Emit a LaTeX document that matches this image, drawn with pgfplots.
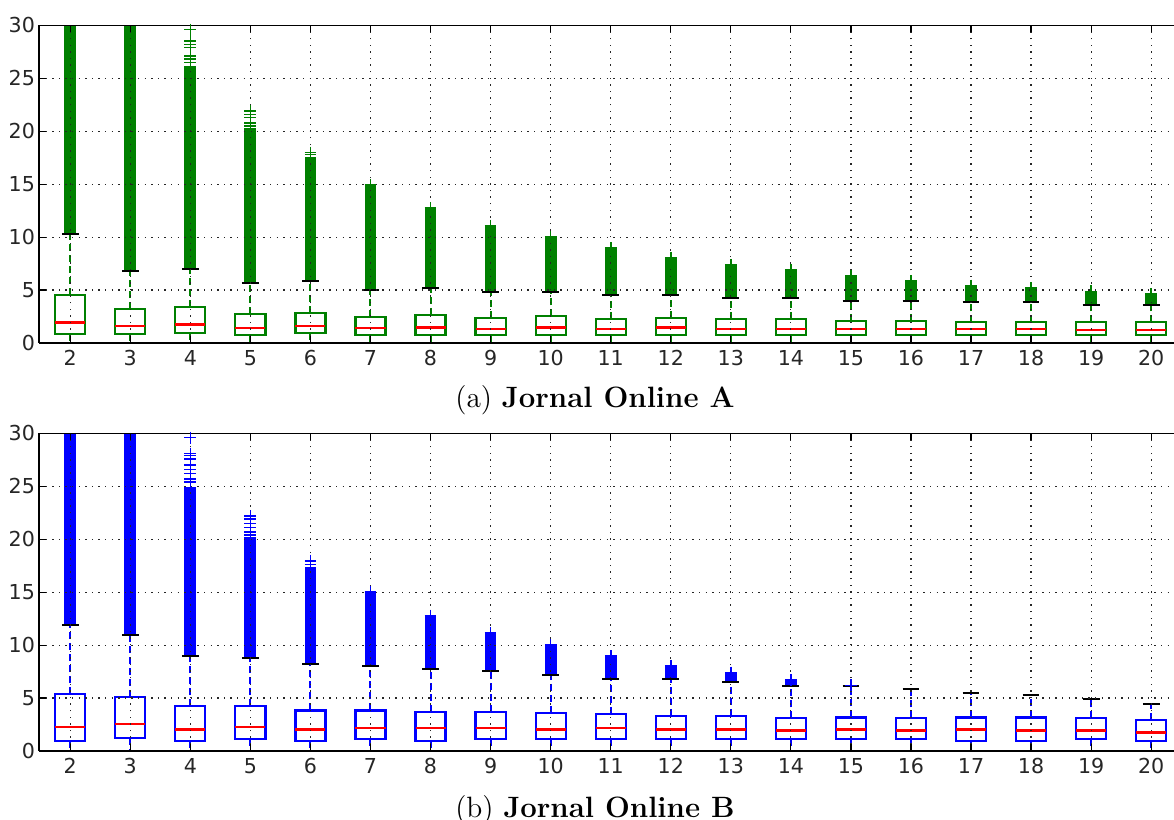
\documentclass[border=0pt]{standalone}
\usepackage{pgfplots}
\usepackage{pgfplotstable}
\pgfplotsset{compat=1.18}
\usepgfplotslibrary{statistics}
\usepackage{fontspec}
\newfontfamily\dejavu{DejaVu Sans}
\definecolor{mgreen}{RGB}{0,128,0}
\definecolor{mblue}{RGB}{0,0,255}
\definecolor{mred}{RGB}{255,0,0}

% pos, upper whisker (cap), top of dense outlier column
\pgfplotstableread{
pos uw dtop
2 10.30 30.5
3 6.84 30.5
4 7.00 26.2
5 5.64 20.3
6 5.83 17.6
7 5.04 14.97
8 5.20 12.76
9 4.79 11.10
10 4.79 10.00
11 4.54 8.98
12 4.54 8.04
13 4.25 7.40
14 4.29 6.87
15 4.00 6.37
16 4.00 5.83
17 3.84 5.42
18 3.84 5.20
19 3.60 4.88
20 3.60 4.66
}\colA

\pgfplotstableread{
pos uw dtop
2 11.90 30.5
3 11.00 30.5
4 8.95 24.9
5 8.83 20.2
6 8.20 17.4
7 8.04 14.9
8 7.70 12.8
9 7.54 11.15
10 7.16 9.99
11 6.79 8.95
12 6.79 8.04
13 6.50 7.41
14 6.13 6.70
15 6.13 6.13
16 5.87 5.87
17 5.50 5.50
18 5.25 5.25
19 4.87 4.87
20 4.46 4.46
}\colB

\pgfplotsset{
  /pgfplots/boxplot/draw/whisker/.code 2 args={%
    \draw[/pgfplots/boxplot/every whisker/.try]
      (boxplot cs:#1) -- (boxplot cs:#2);
    \draw[black, solid, line width=1pt]
      (boxplot whisker cs:#2,0) -- (boxplot whisker cs:#2,1);
  },
  panel/.style={
    width=567.5pt, height=158.8pt, scale only axis,
    xmin=1.48, xmax=20.38, ymin=0, ymax=30,
    xtick={2,...,20}, ytick={0,5,...,30},
    axis y line*=left,
    grid=major,
    grid style={black!85, dash pattern=on 0.7pt off 2.6pt, line width=0.6pt},
    axis line style={line width=0.8pt, black},
    major tick length=3.5pt,
    tick style={black, line width=0.6pt},
    tick align=inside,
    axis on top,
    ticklabel style={font=\fontsize{10.3}{12}\dejavu, text=black!85},
    xticklabel style={yshift=-0.3pt},
    yticklabel style={xshift=1.5pt},
    /pgf/number format/assume math mode=true,
    boxplot/draw direction=y,
    boxplot/box extend=0.5,
    boxplot/whisker extend=0.28,
    boxplot/every whisker/.style={dash pattern=on 3.5pt off 2pt, line width=1pt},
    boxplot/every box/.style={line width=1.1pt},
    boxplot/every median/.style={mred, solid, line width=1.2pt},
  },
  bxA/.style={mgreen, solid},
  bxB/.style={mblue, solid},
}
% box(style, position, Q1, median, Q3, upper whisker)
\newcommand{\bx}[6]{%
  \addplot[#1, boxplot prepared={draw position=#2, lower whisker=0,
    lower quartile=#3, median=#4, upper quartile=#5, upper whisker=#6}] coordinates {};}

\begin{document}
\begin{tikzpicture}
% ---------------- (a) ----------------
\begin{axis}[panel, at={(19.5pt,238.5pt)}, anchor=south west]
  \addplot[mark=none, draw=none, forget plot,
    error bars/.cd, y dir=plus, y explicit, error mark=none,
    error bar style={draw=mgreen, solid, line width=5.9pt}]
    table[x=pos, y=uw, y error expr=\thisrow{dtop}-\thisrow{uw}] {\colA};
  \addplot[only marks, mark=+, mark size=2.95pt, mgreen, mark options={line width=0.8pt, solid}]
    coordinates {
      (4,26.5)(4,26.8)(4,27.1)(4,27.9)(4,28.2)(4,28.5)(4,29.6)
      (5,20.5)(5,20.8)(5,21.3)(5,21.6)(5,21.9)
      (6,17.8)(6,18.0)
      (7,14.97)(8,12.76)(9,11.1)(10,10.0)(11,8.98)(12,8.04)(13,7.4)
      (14,6.87)(15,6.37)(16,5.83)(17,5.42)(18,5.2)(19,4.88)(20,4.66)
    };
  \bx{bxA}{2}{0.85}{1.95}{4.54}{10.30}
  \bx{bxA}{3}{0.85}{1.58}{3.21}{6.84}
  \bx{bxA}{4}{0.95}{1.73}{3.40}{7.00}
  \bx{bxA}{5}{0.79}{1.42}{2.77}{5.64}
  \bx{bxA}{6}{0.95}{1.58}{2.87}{5.83}
  \bx{bxA}{7}{0.79}{1.42}{2.49}{5.04}
  \bx{bxA}{8}{0.79}{1.48}{2.68}{5.20}
  \bx{bxA}{9}{0.79}{1.32}{2.36}{4.79}
  \bx{bxA}{10}{0.79}{1.48}{2.52}{4.79}
  \bx{bxA}{11}{0.79}{1.32}{2.24}{4.54}
  \bx{bxA}{12}{0.79}{1.48}{2.36}{4.54}
  \bx{bxA}{13}{0.79}{1.32}{2.27}{4.25}
  \bx{bxA}{14}{0.79}{1.32}{2.27}{4.29}
  \bx{bxA}{15}{0.79}{1.32}{2.11}{4.00}
  \bx{bxA}{16}{0.79}{1.32}{2.11}{4.00}
  \bx{bxA}{17}{0.79}{1.32}{1.95}{3.84}
  \bx{bxA}{18}{0.79}{1.32}{1.95}{3.84}
  \bx{bxA}{19}{0.79}{1.20}{1.95}{3.60}
  \bx{bxA}{20}{0.79}{1.20}{1.95}{3.60}
\end{axis}
% ---------------- (b) ----------------
\begin{axis}[panel, at={(19.5pt,34.5pt)}, anchor=south west]
  \addplot[mark=none, draw=none, forget plot,
    error bars/.cd, y dir=plus, y explicit, error mark=none,
    error bar style={draw=mblue, solid, line width=5.9pt}]
    table[x=pos, y=uw, y error expr=\thisrow{dtop}-\thisrow{uw}] {\colB};
  \addplot[only marks, mark=+, mark size=2.95pt, mblue, mark options={line width=0.8pt, solid}]
    coordinates {
      (4,25.4)(4,25.7)(4,26.2)(4,26.6)(4,27.0)(4,27.6)(4,27.9)(4,28.1)(4,29.6)
      (5,20.4)(5,20.7)(5,21.1)(5,21.5)(5,21.9)(5,22.2)
      (6,17.6)(6,17.9)(6,18.0)
      (7,14.9)(7,15.0)(8,12.8)(9,11.15)(10,9.99)(11,8.95)(12,8.04)(13,7.41)
      (14,6.7)(15,6.2)
    };
  \bx{bxB}{2}{0.97}{2.29}{5.37}{11.90}
  \bx{bxB}{3}{1.26}{2.54}{5.12}{11.00}
  \bx{bxB}{4}{0.97}{2.04}{4.24}{8.95}
  \bx{bxB}{5}{1.10}{2.29}{4.24}{8.83}
  \bx{bxB}{6}{0.97}{2.04}{3.83}{8.20}
  \bx{bxB}{7}{1.10}{2.17}{3.83}{8.04}
  \bx{bxB}{8}{0.97}{2.17}{3.71}{7.70}
  \bx{bxB}{9}{1.10}{2.17}{3.71}{7.54}
  \bx{bxB}{10}{1.10}{2.04}{3.58}{7.16}
  \bx{bxB}{11}{1.10}{2.17}{3.46}{6.79}
  \bx{bxB}{12}{1.10}{2.04}{3.33}{6.79}
  \bx{bxB}{13}{1.10}{2.04}{3.33}{6.50}
  \bx{bxB}{14}{1.10}{1.92}{3.08}{6.13}
  \bx{bxB}{15}{1.10}{2.04}{3.17}{6.13}
  \bx{bxB}{16}{1.10}{1.92}{3.08}{5.87}
  \bx{bxB}{17}{0.94}{2.04}{3.17}{5.50}
  \bx{bxB}{18}{0.94}{1.92}{3.17}{5.25}
  \bx{bxB}{19}{1.10}{1.92}{3.08}{4.87}
  \bx{bxB}{20}{0.94}{1.76}{2.95}{4.46}
\end{axis}
\node[anchor=base, font=\fontsize{14.7}{17}\selectfont] at (297.5pt,206pt) {(a) \textbf{Jornal Online A}};
\node[anchor=base, font=\fontsize{14.7}{17}\selectfont] at (297.5pt,1.5pt) {(b) \textbf{Jornal Online B}};
\pgfresetboundingbox
\useasboundingbox (0pt,0pt) rectangle (587pt,410pt);
\end{tikzpicture}
\end{document}
